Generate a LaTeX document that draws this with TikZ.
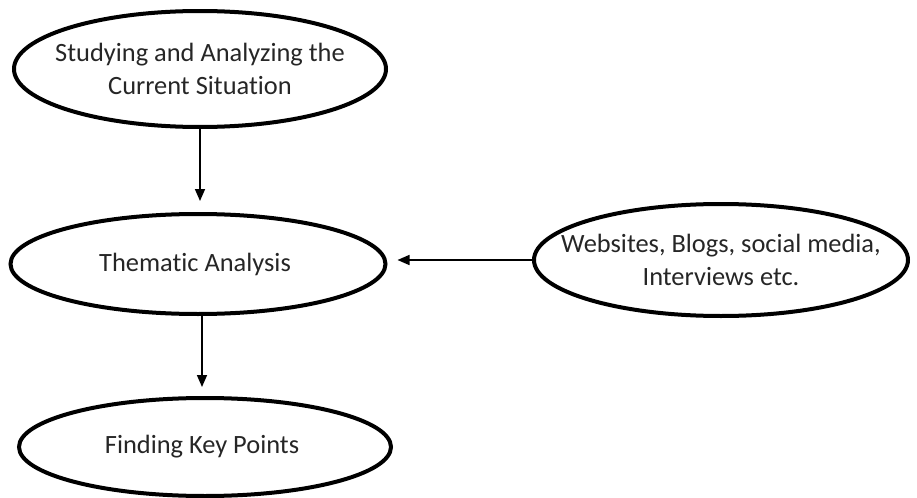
\documentclass[tikz,border=0pt]{standalone}
\usepackage{fontspec}
\setmainfont{Carlito}[Ligatures=NoCommon]
\usepackage{tikz}
\usetikzlibrary{arrows.meta, positioning, shapes.geometric}

\begin{document}
\begin{tikzpicture}[
		x=0.5pt, y=-0.5pt,
		% basic oval style
		stageOval/.style={
			ellipse,
			minimum width=186pt,
			minimum height=50pt,
			inner xsep=-20pt,
			inner ysep=0pt,
			align=center,
			font=\fontsize{13.2}{16.5}\selectfont,
			text=black!85,
			line width=2pt,
			draw=black
		},
		% arrow between stages
		flowArrow/.style={
			draw=black,
			line width=0.8pt,
			-{Triangle[length=6pt,width=5pt]}
		}
		]
		
		\useasboundingbox (0,0) rectangle (917,498);
		
		% first oval: current situation
		\node[stageOval, minimum height=58pt] (study) at (200,69) {
			Studying and Analyzing the \\ Current Situation
		};
		
		% second oval: analysis
		\node[stageOval, minimum width=187.5pt] (thematic) at (198,264) {
			Thematic Analysis
		};
		
		% third oval: sources
		\node[stageOval, minimum width=187pt, minimum height=56pt] (sources) at (721,260) {
			Websites, Blogs, social media, \\ Interviews etc.
		};
		
		% fourth oval: key points
		\node[stageOval, minimum height=49pt] (keypoints) at (205,447) {
			Finding Key Points
		};
		
		% arrows
		\draw[flowArrow] (study.south) -- ([yshift=5.5pt]study.south |- thematic.north);
		\draw[flowArrow] ([xshift=2pt]thematic.south) -- ([xshift=2pt,yshift=4.5pt]thematic.south |- keypoints.north);
		\draw[flowArrow] (sources.west) -- ([xshift=5pt]thematic.east |- sources.west);
		
	\end{tikzpicture}
\end{document}
